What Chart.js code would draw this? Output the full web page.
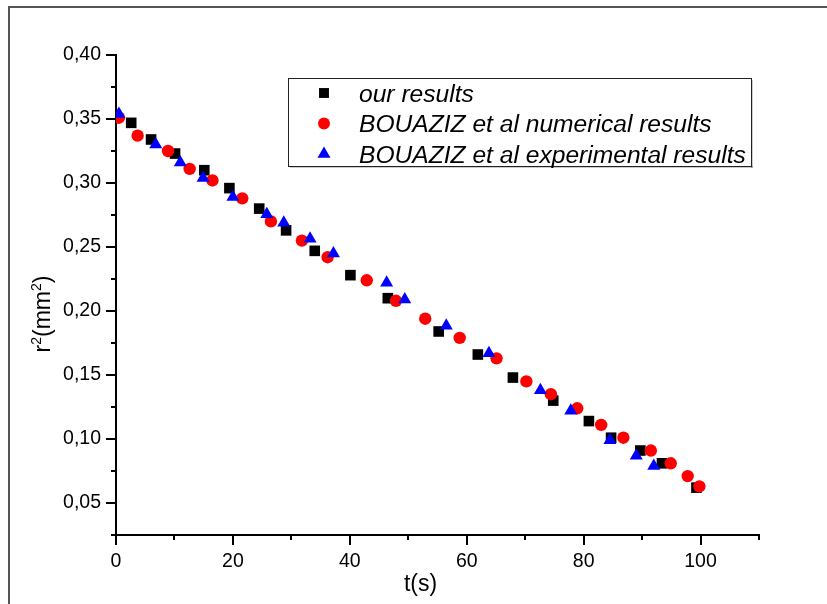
<!DOCTYPE html>
<html>
<head>
<meta charset="utf-8">
<title>r2 vs t</title>
<script src="https://cdn.jsdelivr.net/npm/chart.js@4.4.1/dist/chart.umd.min.js"></script>
<style>
  html, body { margin: 0; padding: 0; background: #fff; }
  #wrap { position: relative; width: 827px; height: 604px; }
</style>
</head>
<body>
<div id="wrap"><canvas id="dropChart" width="827" height="604"></canvas></div>
<script>
// values: t in s, r^2 in mm^2
var oursT  = [2.6, 6.0, 10.1, 15.1, 19.4, 24.5, 29.1, 34.0, 40.1, 46.5, 55.2, 61.9, 67.9, 74.8, 80.9, 84.7, 89.7, 93.4, 99.3];
var oursR2 = [0.347, 0.334, 0.323, 0.310, 0.296, 0.280, 0.263, 0.247, 0.228, 0.210, 0.184, 0.166, 0.148, 0.130, 0.114, 0.101, 0.091, 0.081, 0.062];

var numT  = [0.5, 3.7, 8.9, 12.6, 16.5, 21.6, 26.5, 31.8, 36.2, 42.9, 47.9, 52.9, 58.8, 65.1, 70.2, 74.4, 78.9, 83.0, 86.8, 91.5, 94.9, 97.8, 99.8];
var numR2 = [0.351, 0.337, 0.325, 0.311, 0.302, 0.288, 0.270, 0.255, 0.242, 0.224, 0.208, 0.194, 0.179, 0.163, 0.145, 0.135, 0.124, 0.111, 0.101, 0.091, 0.081, 0.071, 0.063];

var expT  = [0.5, 6.8, 11.0, 14.9, 20.0, 25.8, 28.7, 33.2, 37.2, 46.3, 49.4, 56.5, 63.8, 72.6, 77.8, 84.5, 89.0, 92.0];
var expR2 = [0.354, 0.330, 0.316, 0.304, 0.289, 0.2755, 0.269, 0.2565, 0.245, 0.222, 0.209, 0.1885, 0.167, 0.138, 0.122, 0.099, 0.087, 0.079];

var seriesNames = ['our results', 'BOUAZIZ et al numerical results', 'BOUAZIZ et al experimental results'];

var xTicks = [0, 20, 40, 60, 80, 100];
var yTicks = [0.05, 0.10, 0.15, 0.20, 0.25, 0.30, 0.35, 0.40];

var FONT = "'Liberation Sans', Arial, sans-serif";

function toPoints(xs, ys) {
    var pts = [];
    for (var i = 0; i < xs.length; i++) pts.push({ x: xs[i], y: ys[i] });
    return pts;
}

// page frame, minor ticks, axis titles and the boxed legend
var extrasPlugin = {
    id: 'extras',
    beforeDraw: function(chart) {
        var ctx = chart.ctx;
        ctx.save();
        ctx.fillStyle = '#fff';
        ctx.fillRect(0, 0, chart.width, chart.height);
        ctx.fillStyle = '#555';
        ctx.fillRect(8, 6, chart.width - 8, 2);
        ctx.fillRect(8, 6, 2, chart.height - 6);
        ctx.restore();
    },
    afterDraw: function(chart) {
        var ctx = chart.ctx;
        var area = chart.chartArea;
        var xs = chart.scales.x, ys = chart.scales.y;
        ctx.save();

        // minor ticks
        ctx.strokeStyle = '#000';
        ctx.lineWidth = 2;
        ctx.beginPath();
        for (var v = 10; v <= 110; v += 20) {
            var px = Math.round(xs.getPixelForValue(v));
            ctx.moveTo(px, area.bottom);
            ctx.lineTo(px, area.bottom + 5);
        }
        for (var k = 0; k < 8; k++) {
            var py = Math.round(ys.getPixelForValue(0.025 + 0.05 * k));
            ctx.moveTo(area.left - 5, py);
            ctx.lineTo(area.left, py);
        }
        ctx.stroke();

        // x title
        ctx.fillStyle = '#000';
        ctx.font = '23px ' + FONT;
        ctx.textAlign = 'center';
        ctx.textBaseline = 'middle';
        ctx.fillText('t(s)', (area.left + area.right) / 2 - 17, area.bottom + 50);

        // y title with superscripts
        var parts = [['r', false], ['2', true], ['(mm', false], ['2', true], [')', false]];
        var total = 0, w = [];
        for (var i = 0; i < parts.length; i++) {
            ctx.font = (parts[i][1] ? '14px ' : '23px ') + FONT;
            w.push(ctx.measureText(parts[i][0]).width);
            total += w[i];
        }
        ctx.translate(area.left - 74, (area.top + area.bottom) / 2 + 19);
        ctx.rotate(-Math.PI / 2);
        ctx.textAlign = 'left';
        ctx.textBaseline = 'alphabetic';
        var cx = -total / 2;
        for (i = 0; i < parts.length; i++) {
            ctx.font = (parts[i][1] ? '14px ' : '23px ') + FONT;
            ctx.fillText(parts[i][0], cx, parts[i][1] ? -1 : 8);
            cx += w[i];
        }
        ctx.setTransform(1, 0, 0, 1, 0, 0);

        // legend box
        var bx = 288, by = 78, bw = 463, bh = 88;
        ctx.fillStyle = '#999';
        ctx.fillRect(bx + bw, by + 2, 1.5, bh);
        ctx.fillRect(bx + 2, by + bh, bw, 1.5);
        ctx.strokeStyle = '#222';
        ctx.lineWidth = 1;
        ctx.strokeRect(bx + 0.5, by + 0.5, bw, bh);

        ctx.font = 'italic 24.6px ' + FONT;
        ctx.textAlign = 'left';
        ctx.textBaseline = 'alphabetic';
        for (i = 0; i < chart.data.datasets.length; i++) {
            var ds = chart.data.datasets[i];
            var my = by + 15 + i * 30.5;
            ctx.fillStyle = ds.backgroundColor;
            ctx.strokeStyle = ds.borderColor;
            Chart.helpers.drawPoint(ctx, {
                pointStyle: ds.pointStyle,
                radius: ds.legendRadius,
                rotation: 0,
                borderWidth: 0
            }, bx + 36, my);
            ctx.fillStyle = '#000';
            ctx.fillText(ds.label, bx + 71, my + 8.5);
        }
        ctx.restore();
    }
};

var ctx = document.getElementById('dropChart').getContext('2d');
var dropChart = new Chart(ctx, {
    type: 'scatter',
    data: {
        datasets: [{
            label: seriesNames[0],
            data: toPoints(oursT, oursR2),
            pointStyle: 'rect',
            pointRadius: 7.5,
            legendRadius: 7,
            backgroundColor: '#000',
            borderColor: '#000',
            borderWidth: 0,
            order: 3
        }, {
            label: seriesNames[1],
            data: toPoints(numT, numR2),
            pointStyle: 'circle',
            pointRadius: 6.2,
            legendRadius: 6,
            backgroundColor: '#ff0000',
            borderColor: '#ff0000',
            borderWidth: 0,
            order: 2
        }, {
            label: seriesNames[2],
            data: toPoints(expT, expR2),
            pointStyle: 'triangle',
            pointRadius: 7.5,
            legendRadius: 7.5,
            backgroundColor: '#0000ff',
            borderColor: '#0000ff',
            borderWidth: 0,
            order: 1
        }]
    },
    options: {
        responsive: false,
        animation: false,
        layout: { padding: { top: 55, right: 68, left: 0, bottom: 0 } },
        plugins: {
            legend: { display: false },
            tooltip: { enabled: false }
        },
        scales: {
            x: {
                type: 'linear',
                min: 0,
                max: 110,
                afterBuildTicks: function(s) { s.ticks = xTicks.map(function(v) { return { value: v }; }); },
                afterFit: function(s) { s.height = 69; },
                border: { display: true, color: '#000', width: 2 },
                grid: { display: true, drawOnChartArea: false, drawTicks: true, tickLength: 10, color: '#000', lineWidth: 2, tickColor: '#000', tickWidth: 2 },
                ticks: {
                    color: '#000',
                    padding: 5,
                    maxRotation: 0,
                    font: { family: FONT, size: 19.5 },
                    callback: function(v) { return String(v); }
                }
            },
            y: {
                type: 'linear',
                min: 0.025,
                max: 0.40,
                afterBuildTicks: function(s) { s.ticks = yTicks.map(function(v) { return { value: v }; }); },
                afterFit: function(s) { s.width = 116; },
                border: { display: true, color: '#000', width: 2 },
                grid: { display: true, drawOnChartArea: false, drawTicks: true, tickLength: 10, color: '#000', lineWidth: 2, tickColor: '#000', tickWidth: 2 },
                ticks: {
                    color: '#000',
                    padding: 5,
                    font: { family: FONT, size: 19.5 },
                    callback: function(v) { return v.toFixed(2).replace('.', ','); }
                }
            }
        }
    },
    plugins: [extrasPlugin]
});
</script>
</body>
</html>
